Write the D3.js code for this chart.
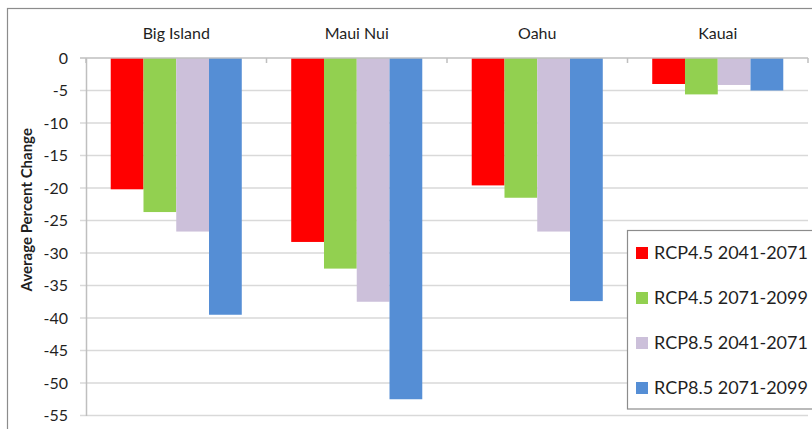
<!DOCTYPE html>
<html>
<head>
<meta charset="utf-8">
<script src="https://cdn.jsdelivr.net/npm/d3@7"></script>
<style>
  html, body { margin: 0; padding: 0; background: #fff; }
  svg { display: block; font-family: Lato, "Open Sans", sans-serif; }
</style>
</head>
<body>
<svg id="chart" width="812" height="429"></svg>
<script>
const categories = ["Big Island", "Maui Nui", "Oahu", "Kauai"];
const seriesNames = ["RCP4.5 2041-2071", "RCP4.5 2071-2099", "RCP8.5 2041-2071", "RCP8.5 2071-2099"];
const rcp45_2041 = [-20.2, -28.3, -19.6, -4.0];
const rcp45_2071 = [-23.7, -32.4, -21.5, -5.6];
const rcp85_2041 = [-26.7, -37.5, -26.7, -4.15];
const rcp85_2071 = [-39.5, -52.5, -37.4, -5.0];
const seriesColors = ["#FF0000", "#92D050", "#CCC0DA", "#558ED5"];
const yTicks = [0, -5, -10, -15, -20, -25, -30, -35, -40, -45, -50, -55];
const yTitle = "Average Percent Change";

(function () {
const seriesValues = [rcp45_2041, rcp45_2071, rcp85_2041, rcp85_2071];

const svg = d3.select("#chart");
const pLeft = 86, pRight = 808, pTop = 58, pBottom = 415.5;
const textColor = "#1f1f1f";

// outer chart border
svg.append("rect")
  .attr("x", 7.5).attr("y", 8.5).attr("width", 840).attr("height", 440)
  .attr("fill", "#fff").attr("stroke", "#8c8c8c").attr("stroke-width", 1.2);

const y = d3.scaleLinear().domain([-55, 0]).range([pBottom, pTop]);
const x0 = d3.scaleBand().domain(categories).range([pLeft, pRight])
  .paddingInner(0.274).paddingOuter(0.137);
const x1 = d3.scaleBand().domain(seriesNames).range([0, x0.bandwidth()]).padding(0);

// gridlines
svg.append("g").selectAll("line").data(yTicks.filter(d => d !== 0)).join("line")
  .attr("x1", pLeft - 6).attr("x2", pRight)
  .attr("y1", d => y(d)).attr("y2", d => y(d))
  .attr("stroke", "#d9d9d9").attr("stroke-width", 1.5);

// y axis labels
const yAxis = svg.append("g").attr("transform", `translate(${pLeft},0)`)
  .call(d3.axisLeft(y).tickValues(yTicks).tickSize(0).tickPadding(18).tickFormat(d3.format("d")));
yAxis.select(".domain").attr("stroke", "#bfbfbf").attr("stroke-width", 1.5);
yAxis.selectAll("text").attr("fill", textColor).style("font-size", "16px")
  .style("font-family", "Lato, sans-serif").text(d => d === 0 ? "0" : "-" + Math.abs(d));

// bars
const groups = svg.append("g").selectAll("g").data(categories).join("g")
  .attr("transform", d => `translate(${x0(d)},0)`);
groups.selectAll("rect")
  .data((c, i) => seriesNames.map((s, j) => ({ s, v: seriesValues[j][i], color: seriesColors[j] })))
  .join("rect")
  .attr("x", d => x1(d.s))
  .attr("width", x1.bandwidth())
  .attr("y", y(0))
  .attr("height", d => y(d.v) - y(0))
  .attr("fill", d => d.color);

// top category axis (at 0)
const xAxis = svg.append("g").attr("transform", `translate(0,${y(0)})`)
  .call(d3.axisTop(x0).tickSize(0).tickPadding(19));
xAxis.select(".domain").remove();
xAxis.selectAll("text").attr("fill", textColor).style("font-size", "16px")
  .style("font-family", "Lato, sans-serif");
svg.append("line").attr("x1", pLeft - 6).attr("x2", pRight)
  .attr("y1", y(0)).attr("y2", y(0)).attr("stroke", "#bfbfbf").attr("stroke-width", 1.5);
// category separator ticks
const sepX = categories.map(c => x0(c) - x0.step() * x0.paddingInner() / 2).concat([pRight]);
svg.append("g").selectAll("line").data(sepX).join("line")
  .attr("x1", d => d).attr("x2", d => d)
  .attr("y1", y(0)).attr("y2", y(0) + 5)
  .attr("stroke", "#bfbfbf").attr("stroke-width", 1.5);

// y title
svg.append("text")
  .attr("transform", `translate(32,${(pTop + pBottom) / 2 - 27}) rotate(-90)`)
  .attr("text-anchor", "middle")
  .attr("fill", textColor)
  .style("font-size", "15px").style("font-weight", "bold")
  .text(yTitle);

// legend
const lg = svg.append("g");
lg.append("rect").attr("x", 627.5).attr("y", 230.5).attr("width", 200).attr("height", 178.5)
  .attr("fill", "#fff").attr("stroke", "#8c8c8c").attr("stroke-width", 1.2);
const legendY = d3.scalePoint().domain(seriesNames).range([253, 388]);
const items = lg.selectAll("g").data(seriesNames).join("g")
  .attr("transform", d => `translate(636,${legendY(d)})`);
items.append("rect").attr("x", 0).attr("y", -6).attr("width", 12).attr("height", 12)
  .attr("fill", (d, i) => seriesColors[i]);
items.append("text").attr("x", 18).attr("y", 0).attr("dy", "0.35em")
  .attr("fill", textColor).style("font-size", "18px").text(d => d);
})();
</script>
</body>
</html>
